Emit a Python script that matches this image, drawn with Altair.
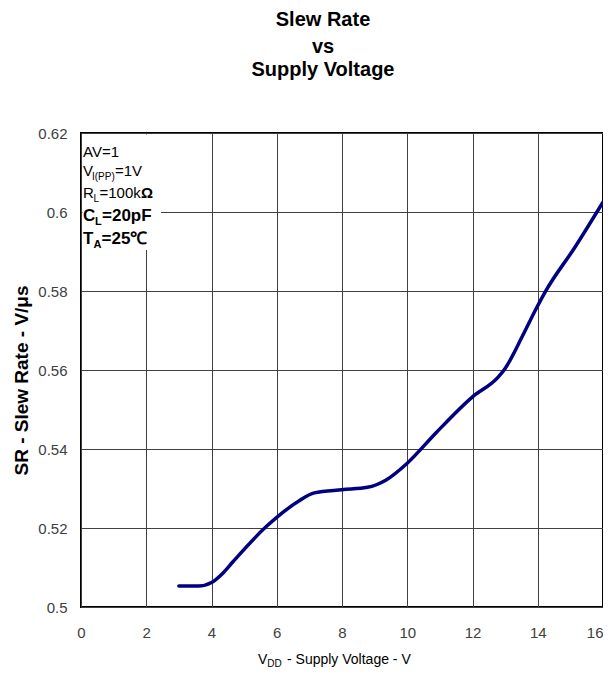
import altair as alt
import pandas as pd

# ---- data ----
vdd = [3.0, 3.6, 4.0, 4.34, 4.65, 5.67, 6.0, 6.69, 7.15, 8.0, 8.78, 9.34,
       10.0, 10.87, 12.0, 12.8, 13.0, 13.52, 13.93, 14.23, 15.15, 16.0]
slew = [0.5053, 0.5053, 0.5062, 0.5085, 0.5114, 0.5203, 0.5227, 0.5269,
        0.5289, 0.5297, 0.5303, 0.5321, 0.5364, 0.5440, 0.5532, 0.5583,
        0.5604, 0.5684, 0.5752, 0.5798, 0.5912, 0.6025]
x_ticks = [0, 2, 4, 6, 8, 10, 12, 14, 16]
y_ticks = [0.5, 0.52, 0.54, 0.56, 0.58, 0.6, 0.62]
title_lines = ["Slew Rate", "vs", "Supply Voltage"]
y_title = "SR - Slew Rate - V/\u03bcs"

df = pd.DataFrame({"vdd": vdd, "sr": slew})

FONT = "Liberation Sans"
W, H = 522, 474

base = alt.Chart(df)

line = base.mark_line(color="#000080", strokeWidth=3.5, interpolate="monotone",
                      strokeCap="round").encode(
    x=alt.X("vdd:Q", scale=alt.Scale(domain=[0, 16], nice=False),
            axis=alt.Axis(values=x_ticks, title=None, grid=True, gridColor="#404040",
                          gridWidth=1, domain=False, ticks=False, labelPadding=18,
                          labelFontSize=15, labelColor="#404040", labelFont=FONT,
                          labelFlush=False,
                          labelAlign=alt.ExprRef(expr="datum.value >= 16 ? 'right' : 'center'"))),
    y=alt.Y("sr:Q", scale=alt.Scale(domain=[0.5, 0.62], nice=False, zero=False),
            axis=alt.Axis(values=y_ticks, format="~g", grid=True, gridColor="#404040",
                          gridWidth=1, domain=False, ticks=False, labelPadding=14,
                          labelFontSize=15, labelColor="#404040", labelFont=FONT,
                          labelFlush=False,
                          title=y_title, titleFont=FONT, titleFontSize=19,
                          titleFontWeight="bold", titleColor="black",
                          titleX=-54, titleY=247, titleAngle=270,
                          titleBaseline="alphabetic", titleAlign="center")),
)

dummy = alt.Data(values=[{"a": 1}])

box = alt.Chart(dummy).mark_rect(color="white").encode(
    x=alt.value(1.5), x2=alt.value(80), y=alt.value(1.5), y2=alt.value(117))


def txt(s, x, y, size, weight="normal", align="left"):
    return alt.Chart(dummy).mark_text(
        text=s, font=FONT, fontSize=size, fontWeight=weight, align=align,
        baseline="alphabetic", color="black").encode(x=alt.value(x), y=alt.value(y))


layers = [line, box]

# chart title (three centred lines)
for s, yy in zip(title_lines, [-107, -80, -57]):
    layers.append(txt(s, 242, yy, 20, "bold", "center"))

# annotation block
layers += [
    txt("AV=1", 2, 24, 15),
    txt("V", 2, 43, 15), txt("I(PP)", 11, 47, 10), txt("=1V", 34, 43, 15),
    txt("R", 2, 65, 15), txt("L", 12.5, 69, 10), txt("=100k", 18.5, 65, 15),
    txt("\u03a9", 60, 65, 15, "bold"),
    txt("C", 2, 88, 17, "bold"), txt("L", 14, 92, 11, "bold"),
    txt("=20pF", 21, 88, 17, "bold"),
    txt("T", 2, 111, 17, "bold"), txt("A", 12.5, 115, 11, "bold"),
    txt("=25\u2103", 20.5, 111, 17, "bold"),
]

# x-axis title with subscript
layers += [
    txt("V", 177, 531, 14), txt("DD", 186.3, 534, 10),
    txt("- Supply  Voltage - V", 206, 531, 14),
]

chart = alt.layer(*layers).properties(
    width=W, height=H,
    autosize=alt.AutoSizeParams(type="none"),
    padding={"left": 73, "top": 125, "right": 0, "bottom": 62},
).configure_view(stroke="black", strokeWidth=2)

chart.save("out.html", embed_options={"renderer": "svg", "actions": False})
